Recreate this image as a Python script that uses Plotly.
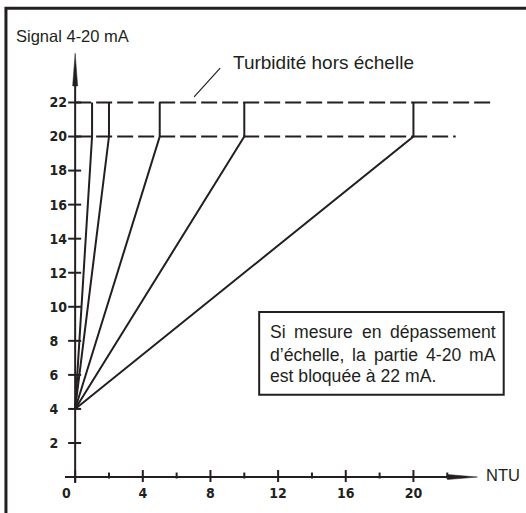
import plotly.graph_objects as go

# ---------------- data ----------------
ntu_ranges = [1, 2, 5, 10, 20]          # full-scale NTU of each range
signal_min = 4                           # mA at 0 NTU
signal_max = 20                          # mA at full scale
signal_over = 22                         # mA when over range
dash22_end = 24.7                        # extent of the 22 mA dashed line (NTU)
dash20_end = 22.5                        # extent of the 20 mA dashed line (NTU)
x_ticks = [0, 4, 8, 12, 16, 20]
x_minor = [2, 6, 10, 14, 18, 22]
y_ticks = [2, 4, 6, 8, 10, 12, 14, 16, 18, 20, 22]
x_ticktext = ["0" + "\u00a0" * 4] + [str(v) for v in x_ticks[1:]]
y_ticktext = [(str(v) + "\u00a0\u00a0") if v < 10 else str(v) for v in y_ticks]

title_y = "Signal 4-20 mA"
title_x = "NTU"
note_over = "Turbidité hors échelle"
box_lines = [
    "Si mesure en dépassement",
    "d\u2019échelle, la partie 4-20 mA",
    "est bloquée à 22 mA.",
]

# ---------------- layout geometry ----------------
W_FIG, H_FIG = 526, 513
X_RANGE = [-0.6, 25.0]
Y_RANGE = [-0.35, 25.2]
L, R, T, B = 65, 28.4, 47.7, 26.6
plot_w = W_FIG - L - R
plot_h = H_FIG - T - B
INK = "#231f20"
SANS = "Liberation Sans, Arial, Helvetica, sans-serif"
NARROW = "Liberation Sans Narrow, DejaVu Sans Condensed, Arial Narrow, sans-serif"

# Arial / Liberation Sans advance widths (1/1000 em) for justification
ADV = {" ": 278, "S": 667, "i": 222, "m": 833, "e": 556, "s": 500, "u": 556,
       "r": 333, "n": 556, "d": 556, "é": 556, "p": 556, "a": 556, "t": 278,
       "\u2019": 222, "c": 500, "h": 556, "l": 222, ",": 278, "4": 556, "-": 333,
       "2": 556, "0": 556, "A": 667, "b": 556, "o": 556, "q": 556, "à": 556,
       ".": 278}


def text_w(s, size):
    return sum(ADV.get(ch, 556) for ch in s) / 1000.0 * size


def dx(px):
    return X_RANGE[0] + (px - L) / plot_w * (X_RANGE[1] - X_RANGE[0])


def dy(py):
    return Y_RANGE[1] - (py - T) / plot_h * (Y_RANGE[1] - Y_RANGE[0])


def pxp(px):
    return (px - L) / plot_w


def pyp(py):
    return (H_FIG - B - py) / plot_h


fig = go.Figure()

# dashed reference lines
for level, end in [(signal_over, dash22_end), (signal_max, dash20_end)]:
    fig.add_trace(go.Scatter(x=[0, end], y=[level, level], mode="lines",
                             line=dict(color=INK, width=2, dash="16px,5px"),
                             hoverinfo="skip"))

# range lines
for r in ntu_ranges:
    fig.add_trace(go.Scatter(x=[0, r, r], y=[signal_min, signal_max, signal_over],
                             mode="lines", line=dict(color=INK, width=2),
                             hoverinfo="skip"))

shapes = []
# axes lines
shapes.append(dict(type="line", xref="x", yref="y", x0=0, x1=0,
                   y0=Y_RANGE[0], y1=dy(84), line=dict(color=INK, width=2)))
shapes.append(dict(type="line", xref="x", yref="y", x0=dx(63), x1=dx(450),
                   y0=0, y1=0, line=dict(color=INK, width=2)))
# arrowheads
hw_x = 2.5 * (X_RANGE[1] - X_RANGE[0]) / plot_w
hw_y = 2.5 * (Y_RANGE[1] - Y_RANGE[0]) / plot_h
shapes.append(dict(type="path", xref="x", yref="y",
                   path=f"M {-hw_x},{dy(86)} L {hw_x},{dy(86)} L 0,{dy(53)} Z",
                   fillcolor=INK, line=dict(color=INK, width=0.5)))
shapes.append(dict(type="path", xref="x", yref="y",
                   path=f"M {dx(447)},{-hw_y} L {dx(447)},{hw_y} L {dx(477)},0 Z",
                   fillcolor=INK, line=dict(color=INK, width=0.5)))
# ticks
for v in y_ticks:
    shapes.append(dict(type="line", xref="x", yref="y", xsizemode="pixel", xanchor=0,
                       x0=-7, x1=6, y0=v, y1=v, line=dict(color=INK, width=2)))
for v in x_ticks:
    shapes.append(dict(type="line", xref="x", yref="y", ysizemode="pixel", yanchor=0,
                       y0=-5, y1=7, x0=v, x1=v, line=dict(color=INK, width=2)))
for v in x_minor:
    shapes.append(dict(type="line", xref="x", yref="y", ysizemode="pixel", yanchor=0,
                       y0=-1.5, y1=4.5, x0=v, x1=v, line=dict(color=INK, width=2)))
# leader line
shapes.append(dict(type="line", xref="paper", yref="paper", x0=pxp(194), y0=pyp(97),
                   x1=pxp(220), y1=pyp(68), line=dict(color=INK, width=1.2)))
# note box
shapes.append(dict(type="rect", xref="paper", yref="paper", x0=pxp(259), x1=pxp(503.3),
                   y0=pyp(397.3), y1=pyp(314), line=dict(color=INK, width=2)))
# outer frame
shapes.append(dict(type="rect", xref="paper", yref="paper", x0=pxp(6), x1=pxp(540),
                   y0=pyp(530), y1=pyp(7.5), line=dict(color=INK, width=3)))

annotations = []


def text(s, px, py, size, anchor="left"):
    annotations.append(dict(text=s, xref="paper", yref="paper", x=pxp(px), y=pyp(py),
                            xanchor=anchor, yanchor="middle", showarrow=False,
                            font=dict(family=SANS, size=size, color=INK)))


text(title_y, 14, 35.5, 16.5)
text(note_over, 230.5, 62.5, 19)
text(title_x, 484, 478.5, 16.5)

# note text: first two lines justified between these edges, last line left
BOX_FS = 17.6
left_edge, right_edge = 267.5, 493.5
line_y = [334.5, 357.5, 378]
for i, (ln, yy) in enumerate(zip(box_lines, line_y)):
    if i == len(box_lines) - 1:
        text(ln, left_edge, yy, BOX_FS)
        continue
    words = ln.split(" ")
    widths = [text_w(w, BOX_FS) for w in words]
    gap = (right_edge - left_edge - sum(widths)) / (len(words) - 1)
    xx = left_edge
    for w, ww in zip(words, widths):
        text(w, xx, yy, BOX_FS)
        xx += ww + gap

fig.update_layout(
    width=W_FIG, height=H_FIG,
    margin=dict(l=L, r=R, t=T, b=B, pad=0),
    paper_bgcolor="white", plot_bgcolor="white",
    showlegend=False, hovermode=False,
    shapes=shapes, annotations=annotations,
    xaxis=dict(range=X_RANGE, showgrid=False, zeroline=False, showline=False,
               ticks="", tickvals=x_ticks, ticktext=x_ticktext,
               tickfont=dict(family=NARROW, size=14, color=INK, weight="bold"),
               fixedrange=True),
    yaxis=dict(range=Y_RANGE, showgrid=False, zeroline=False, showline=False,
               ticks="", tickvals=y_ticks, ticktext=y_ticktext, ticklabelstandoff=-3,
               tickfont=dict(family=NARROW, size=14, color=INK, weight="bold"),
               fixedrange=True),
)

fig.write_html("out.html", config={"displayModeBar": False},
               post_script="document.body.style.margin='0';document.body.style.overflow='hidden';")
